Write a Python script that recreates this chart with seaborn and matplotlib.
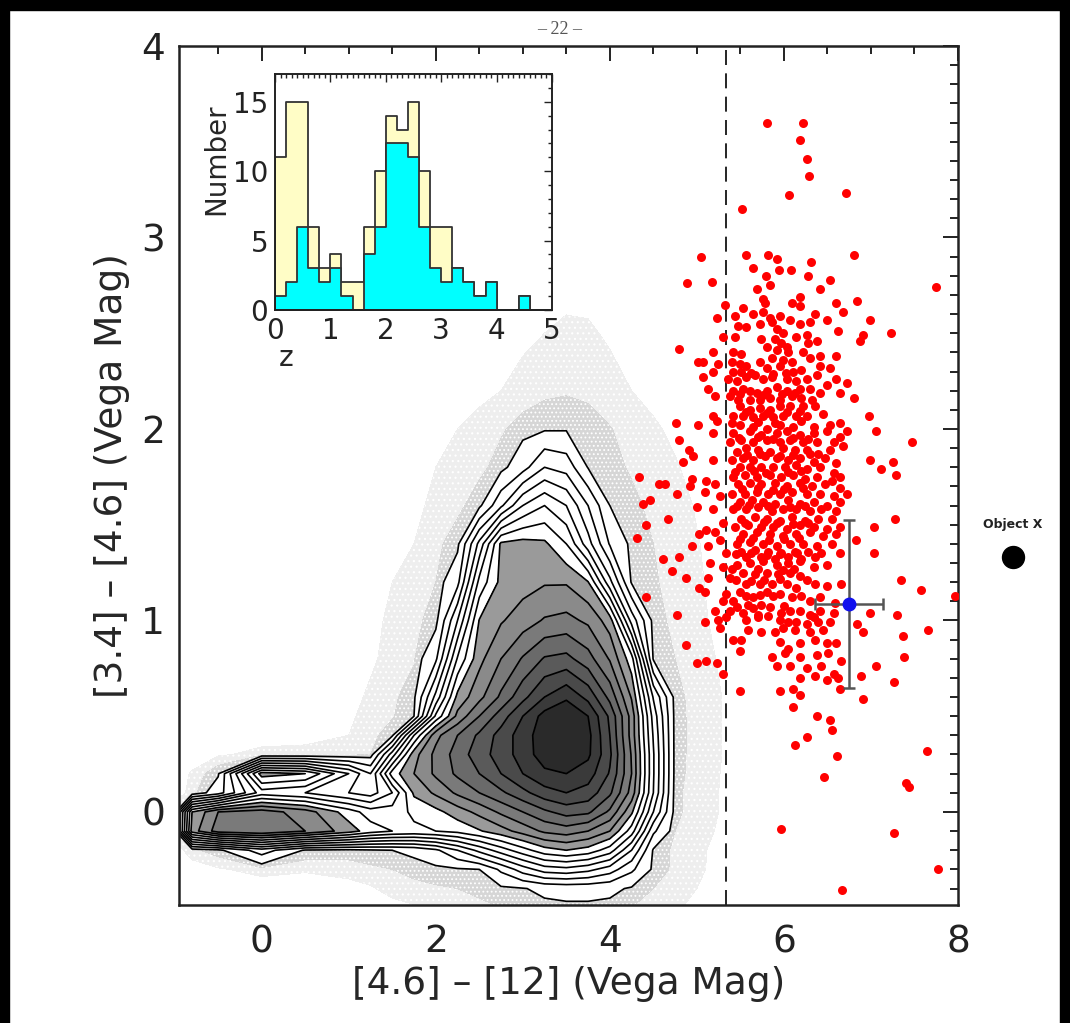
import numpy as np
import pandas as pd
import seaborn as sns
import matplotlib
matplotlib.use("Agg")
import matplotlib.pyplot as plt
from matplotlib.patches import Rectangle
from matplotlib.ticker import MultipleLocator

# region data
# density of the full sample on a coarse grid, in "contour level" units
grid_x = [-1.0, -0.8, -0.5, 0.0, 0.5, 1.0, 1.25, 1.5, 1.75, 2.0, 2.25, 2.5,
          2.75, 3.0, 3.25, 3.5, 3.75, 4.0, 4.25, 4.5, 4.75, 5.0, 5.5]
grid_y = [-0.5, -0.4, -0.3, -0.2, -0.1, 0.0, 0.1, 0.2, 0.3, 0.4, 0.5, 0.6,
          0.8, 1.0, 1.2, 1.4, 1.6, 1.8, 2.0, 2.2, 2.5, 2.8]
density_levels = [
    [0, 0, 0, 0, 0, 0, 0, 0.1, 0.2, 0.3, 0.4, 0.5, 0.6, 0.7, 0.8, 0.85, 0.85, 0.8, 0.6, 0.4, 0.3, 0.15, 0],
    [0, 0, 0, 0, 0, 0.1, 0.2, 0.4, 0.5, 0.55, 0.6, 0.7, 0.85, 0.95, 1.2, 1.3, 1.3, 1.2, 0.9, 0.6, 0.4, 0.25, 0.05],
    [0, 0, 0.2, 0.4, 0.3, 0.4, 0.5, 0.6, 0.7, 0.8, 0.9, 1.0, 2.2, 3.5, 4.5, 4.7, 4.3, 3.5, 2.2, 0.85, 0.5, 0.3, 0.05],
    [0, 0.5, 0.8, 2.5, 0.9, 0.8, 0.9, 1.0, 1.2, 1.8, 3.0, 4.3, 5.5, 6.6, 7.6, 8.0, 7.6, 6.5, 4.0, 0.9, 0.5, 0.3, 0.08],
    [0.5, 8.5, 10.5, 11, 10, 8.5, 7.5, 7.0, 6.8, 7.0, 7.3, 7.9, 8.6, 9.4, 10.2, 10.5, 10.0, 9.0, 6.5, 2.2, 0.6, 0.35, 0.1],
    [0.5, 8, 10, 10.5, 9.5, 7.5, 6.5, 6.5, 7.2, 7.7, 8.5, 9.3, 10.2, 11.0, 11.8, 12.4, 12.2, 10.8, 8.2, 4.0, 0.7, 0.4, 0.1],
    [0, 0.4, 1.5, 5.5, 5.0, 4.0, 3.5, 5.0, 8.2, 9.2, 10.2, 11.0, 11.8, 12.7, 13.6, 14.0, 13.6, 12.2, 9.6, 5.0, 0.7, 0.4, 0.1],
    [0, 0.3, 0.9, 8.5, 8.0, 5.0, 3.0, 7.5, 9.0, 10.2, 11.2, 12.0, 13.0, 14.0, 14.8, 15.0, 14.5, 12.9, 10.0, 5.1, 0.75, 0.42, 0.1],
    [0, 0, 0.2, 0.35, 0.35, 0.4, 0.6, 4.5, 8.6, 10.3, 11.4, 12.6, 13.4, 14.5, 15.5, 16.2, 15.2, 13.2, 9.9, 5.1, 0.75, 0.45, 0.1],
    [0, 0, 0, 0.1, 0.15, 0.25, 0.45, 0.85, 6.0, 9.7, 11.0, 12.2, 13.4, 14.5, 15.6, 16.4, 15.3, 13.0, 9.6, 4.9, 0.75, 0.45, 0.1],
    [0, 0, 0, 0, 0.1, 0.2, 0.35, 0.55, 1.0, 6.2, 9.3, 11.0, 12.5, 14.0, 15.4, 16.0, 15.0, 12.8, 9.6, 4.6, 0.75, 0.45, 0.1],
    [0, 0, 0, 0, 0.05, 0.15, 0.3, 0.5, 0.85, 4.3, 8.3, 9.7, 11.2, 12.7, 14.0, 14.8, 13.7, 11.7, 8.9, 3.9, 0.72, 0.45, 0.1],
    [0, 0, 0, 0, 0, 0.1, 0.2, 0.35, 0.55, 1.8, 6.1, 8.7, 10.0, 11.1, 12.1, 12.3, 11.4, 9.9, 7.4, 0.9, 0.6, 0.38, 0.08],
    [0, 0, 0, 0, 0, 0.1, 0.18, 0.3, 0.5, 0.75, 4.0, 8.05, 8.9, 9.5, 10.1, 10.3, 9.8, 8.5, 3.6, 0.75, 0.5, 0.32, 0.05],
    [0, 0, 0, 0, 0, 0.1, 0.15, 0.25, 0.4, 0.6, 1.7, 6.3, 8.3, 8.6, 8.9, 8.9, 8.05, 4.3, 0.9, 0.65, 0.45, 0.3, 0],
    [0, 0, 0, 0, 0, 0, 0, 0.1, 0.25, 0.5, 0.8, 4.3, 8.2, 8.4, 8.2, 7.0, 4.4, 1.9, 0.8, 0.6, 0.42, 0.27, 0],
    [0, 0, 0, 0, 0, 0, 0, 0.1, 0.2, 0.3, 0.5, 0.8, 2.8, 5.0, 6.0, 5.0, 3.0, 1.0, 0.7, 0.5, 0.38, 0.22, 0],
    [0, 0, 0, 0, 0, 0, 0, 0.1, 0.15, 0.25, 0.35, 0.5, 0.75, 1.6, 3.0, 2.6, 0.95, 0.72, 0.55, 0.4, 0.28, 0.15, 0],
    [0, 0, 0, 0, 0, 0, 0, 0, 0.1, 0.15, 0.25, 0.38, 0.55, 0.75, 0.9, 0.92, 0.8, 0.62, 0.45, 0.3, 0.18, 0.05, 0],
    [0, 0, 0, 0, 0, 0, 0, 0, 0, 0, 0.1, 0.15, 0.25, 0.4, 0.5, 0.55, 0.5, 0.38, 0.25, 0.15, 0.05, 0, 0],
    [0, 0, 0, 0, 0, 0, 0, 0, 0, 0, 0, 0, 0.1, 0.15, 0.25, 0.32, 0.3, 0.2, 0.1, 0, 0, 0, 0],
    [0, 0, 0, 0, 0, 0, 0, 0, 0, 0, 0, 0, 0, 0, 0, 0.1, 0.1, 0, 0, 0, 0, 0, 0],
]

# selected red objects
red_x = [
    # sparse top / outskirts
    5.81, 6.22, 6.18, 6.27, 6.29, 6.06, 6.71, 5.52,
    5.05, 5.57, 5.82, 5.92, 6.80, 5.64, 5.94, 6.08, 6.31,
    4.89, 5.17, 5.79, 6.28, 6.53, 7.75, 5.69, 5.84, 6.42,
    6.18, 5.76, 6.84, 6.99, 7.23, 6.91, 6.87, 4.79, 5.01,
    6.80, 6.98, 7.06, 7.47, 4.76, 5.01, 4.80, 4.91, 4.95, 4.84,
    6.99, 7.12, 7.25, 7.29, 4.34, 4.63, 4.94,
    7.28, 7.03, 6.83, 7.03, 7.34, 7.57, 7.97, 7.30, 7.66, 7.37, 7.38, 7.26,
    6.99, 6.84, 6.91, 7.06, 6.89, 6.91, 6.65, 6.38, 6.53, 6.55, 6.61, 6.27,
    6.13, 6.46, 7.64, 7.40, 7.44, 5.97, 7.26, 7.77, 6.67,
    5.49, 5.95, 6.11, 6.18, 6.11, 5.00, 4.88, 4.77,
    4.42, 4.67, 4.61, 4.80, 4.71, 4.88, 4.42, 5.00, 4.77, 4.46, 4.31, 4.57, 4.92,
    4.38, 4.94, 5.02, 5.02,
    # upper core
    5.32, 5.53, 5.78, 6.09, 6.18, 6.60, 5.23, 5.44, 5.65, 5.76, 5.84, 5.95,
    6.07, 6.18, 6.36, 6.30, 6.49, 6.68, 5.47, 5.57, 5.72, 5.86, 5.92, 5.99,
    5.90, 5.97, 6.03, 6.14, 6.26, 6.38, 6.28, 6.62, 5.30, 5.44, 5.74, 5.80,
    5.92, 6.05, 5.42, 5.51, 5.19, 5.24, 5.40, 5.49, 5.57, 5.72, 5.86, 5.99,
    6.09, 6.22, 6.30, 6.41, 6.41, 6.60, 6.53, 5.07, 5.19, 5.42, 5.51, 5.80,
    5.95, 6.11, 6.20, 6.38, 6.60, 6.72, 5.07, 5.13, 5.36, 5.46, 5.57, 5.67,
    5.76, 5.86, 6.03, 6.14, 6.26, 6.49, 5.42, 5.53, 5.61, 5.69, 5.80, 5.92,
    6.03, 6.18, 6.30, 6.41, 6.64, 5.21, 5.38, 5.47, 5.61, 5.72, 5.84, 5.95,
    6.09, 6.20, 6.32, 5.49, 5.61, 5.72, 5.84, 5.95, 6.07, 6.22, 6.36, 5.42,
    5.53, 5.65, 5.76, 5.88, 5.99, 6.14, 6.26, 6.45, 5.19, 5.23, 5.49, 5.65,
    5.80, 5.95, 6.11, 6.34, 6.53, 6.64,
    # middle core
    5.19, 5.19, 5.11, 5.21, 5.09, 5.26, 5.19, 5.11, 5.21, 5.30, 5.26, 5.13, 5.34,
    5.42, 5.61, 5.74, 5.92, 6.03, 6.18, 6.34, 6.49, 6.64, 6.72,
    5.38, 5.51, 5.65, 5.80, 5.95, 6.07, 6.22, 6.38, 6.57,
    5.46, 5.57, 5.70, 5.84, 5.99, 6.13, 6.26, 6.39, 6.53, 6.68,
    5.40, 5.53, 5.65, 5.78, 5.92, 6.05, 6.18, 6.34, 6.47, 6.60,
    5.49, 5.61, 5.74, 5.88, 6.01, 6.14, 6.26, 6.41, 6.57,
    5.42, 5.55, 5.69, 5.84, 5.97, 6.11, 6.24, 6.38, 6.55, 6.64,
    5.47, 5.61, 5.74, 5.90, 6.03, 6.18, 6.32, 6.47, 6.64,
    5.40, 5.55, 5.69, 5.82, 5.95, 6.09, 6.26, 6.41, 6.57, 6.72,
    5.49, 5.63, 5.76, 5.90, 6.05, 6.18, 6.34, 6.49, 6.64,
    5.42, 5.57, 5.70, 5.86, 5.99, 6.14, 6.30, 6.43, 6.60,
    5.51, 5.67, 5.80, 5.95, 6.09, 6.24, 6.39, 6.55,
    5.44, 5.59, 5.74, 5.88, 6.03, 6.18, 6.34, 6.49, 6.64,
    5.53, 5.69, 5.84, 5.99, 6.14, 6.30, 6.45, 6.60,
    5.46, 5.61, 5.76, 5.92, 6.07, 6.22, 6.38, 6.55,
    5.51, 5.67, 5.82, 5.97, 6.13, 6.28, 6.43, 6.64,
    5.57, 5.74, 5.90, 6.05, 6.20, 6.36,
    # lower core
    5.15, 5.30, 5.46, 5.61, 5.76, 5.92, 6.05, 6.18, 6.34, 6.49,
    5.53, 5.67, 5.80, 5.93, 6.07, 6.18, 6.26, 6.36, 6.49, 6.66,
    5.13, 5.38, 5.57, 5.72, 5.86, 6.03, 6.14, 5.09, 5.34, 5.49,
    5.65, 5.80, 5.95, 6.09, 6.30, 6.41, 6.59, 5.30, 5.42, 5.59, 5.74,
    5.21, 5.38, 5.53, 5.70, 5.97, 6.07, 6.18, 6.30, 6.41, 6.57,
    5.09, 5.24, 5.57, 5.95, 6.05, 6.14, 6.26, 6.39, 6.53,
    5.26, 5.59, 5.74, 5.90, 5.99, 6.13, 6.30, 6.45,
    5.42, 5.51, 5.95, 6.05, 6.18, 6.36, 6.49, 6.60,
    5.11, 5.23, 5.30, 5.49, 5.86, 6.01, 6.18, 6.38, 6.51, 6.66,
    5.92, 6.07, 6.26, 6.43, 6.57, 6.18, 6.36, 6.49, 6.62,
    # crowded centre, objects hidden between the ones above
    5.48, 5.70, 5.87, 6.10, 6.28, 5.58, 5.73, 5.96, 6.11, 6.30,
    5.44, 5.66, 5.79, 6.05, 6.20, 5.52, 5.70, 5.87, 6.00, 6.22,
    5.46, 5.60, 5.82, 6.07, 6.24, 5.55, 5.77, 5.92, 6.11, 6.28,
    5.50, 5.65, 5.83, 6.00, 6.17, 5.45, 5.62, 5.80, 5.96, 6.15,
    5.62, 5.88, 6.02, 5.50, 5.76, 5.98, 6.13, 5.56, 5.80, 6.03, 6.18,
    5.40, 5.70, 5.90, 6.20,
    5.40, 5.70, 5.99, 6.12, 5.45, 5.62, 5.77, 5.96, 5.56, 5.72, 5.88, 6.20,
    5.46, 5.64, 5.84, 6.00, 5.34, 5.70, 5.82, 6.35,
]
red_y = [
    3.60, 3.60, 3.51, 3.41, 3.32, 3.22, 3.23, 3.15,
    2.90, 2.91, 2.91, 2.89, 2.91, 2.84, 2.83, 2.83, 2.87,
    2.76, 2.77, 2.80, 2.80, 2.78, 2.74, 2.73, 2.75, 2.73,
    2.69, 2.68, 2.67, 2.57, 2.50, 2.49, 2.46, 2.42, 2.35,
    2.16, 2.07, 1.99, 1.93, 2.03, 2.02, 1.94, 1.89, 1.86, 1.83,
    1.84, 1.79, 1.83, 1.76, 1.75, 1.71, 1.74,
    1.53, 1.49, 1.42, 1.35, 1.21, 1.16, 1.13, 1.03, 0.95, 0.92, 0.81, 0.68,
    1.04, 0.98, 0.94, 0.76, 0.71, 0.59, 0.64, 0.50, 0.48, 0.43, 0.29, 0.39,
    0.35, 0.18, 0.32, 0.15, 0.13, -0.09, -0.11, -0.30, -0.41,
    0.63, 0.63, 0.64, 0.61, 0.55, 0.78, 0.87, 1.03,
    1.50, 1.53, 1.32, 1.33, 1.26, 1.22, 1.12, 1.59, 1.66, 1.63, 1.43, 1.71, 1.70,
    1.61, 1.39, 1.45, 1.17,
    # upper core
    2.65, 2.63, 2.66, 2.66, 2.64, 2.66, 2.58, 2.59, 2.60, 2.61, 2.58, 2.59,
    2.57, 2.55, 2.60, 2.56, 2.57, 2.61, 2.54, 2.53, 2.55, 2.56, 2.52, 2.50,
    2.47, 2.45, 2.43, 2.48, 2.49, 2.46, 2.45, 2.51, 2.48, 2.48, 2.47, 2.43,
    2.41, 2.40, 2.40, 2.39, 2.40, 2.34, 2.35, 2.34, 2.33, 2.35, 2.37, 2.36,
    2.35, 2.40, 2.37, 2.38, 2.33, 2.38, 2.32, 2.35, 2.30, 2.30, 2.30, 2.32,
    2.33, 2.30, 2.31, 2.28, 2.26, 2.24, 2.27, 2.21, 2.26, 2.25, 2.27, 2.28,
    2.26, 2.27, 2.26, 2.25, 2.26, 2.23, 2.20, 2.21, 2.20, 2.19, 2.20, 2.22,
    2.20, 2.21, 2.21, 2.19, 2.19, 2.17, 2.17, 2.15, 2.15, 2.15, 2.16, 2.15,
    2.17, 2.16, 2.15, 2.12, 2.10, 2.11, 2.10, 2.12, 2.12, 2.12, 2.12, 2.07,
    2.07, 2.06, 2.07, 2.06, 2.07, 2.07, 2.07, 2.08, 2.07, 2.04, 2.02, 2.01,
    2.00, 2.02, 2.01, 2.01, 2.02, 2.03,
    # middle core
    1.98, 1.84, 1.73, 1.71, 1.67, 1.65, 1.58, 1.47, 1.46, 1.51, 1.42, 1.39, 1.35,
    1.98, 1.99, 1.97, 1.98, 1.99, 1.97, 1.98, 1.99, 1.96, 1.99,
    1.93, 1.94, 1.93, 1.94, 1.93, 1.94, 1.93, 1.93, 1.93,
    1.88, 1.90, 1.89, 1.88, 1.90, 1.89, 1.89, 1.87, 1.89, 1.91,
    1.84, 1.85, 1.84, 1.86, 1.85, 1.84, 1.85, 1.83, 1.85, 1.82,
    1.80, 1.80, 1.80, 1.80, 1.80, 1.81, 1.79, 1.80, 1.77,
    1.75, 1.76, 1.75, 1.76, 1.75, 1.76, 1.74, 1.75, 1.73, 1.75,
    1.71, 1.72, 1.71, 1.72, 1.70, 1.72, 1.70, 1.71, 1.69,
    1.66, 1.66, 1.67, 1.66, 1.66, 1.67, 1.66, 1.66, 1.65, 1.66,
    1.62, 1.63, 1.62, 1.61, 1.63, 1.61, 1.62, 1.60, 1.62,
    1.58, 1.58, 1.59, 1.57, 1.58, 1.58, 1.57, 1.58, 1.57,
    1.53, 1.54, 1.53, 1.52, 1.54, 1.52, 1.53, 1.53,
    1.49, 1.50, 1.49, 1.49, 1.48, 1.50, 1.49, 1.48, 1.49,
    1.45, 1.46, 1.45, 1.44, 1.45, 1.46, 1.44, 1.45,
    1.40, 1.41, 1.40, 1.39, 1.40, 1.40, 1.39, 1.40,
    1.36, 1.37, 1.36, 1.35, 1.36, 1.36, 1.35, 1.35,
    1.33, 1.33, 1.32, 1.33, 1.32, 1.33,
    # lower core
    1.30, 1.28, 1.29, 1.30, 1.31, 1.29, 1.30, 1.31, 1.28, 1.29,
    1.25, 1.24, 1.25, 1.24, 1.25, 1.23, 1.21, 1.19, 1.18, 1.19,
    1.22, 1.22, 1.19, 1.19, 1.19, 1.19, 1.17, 1.15, 1.14, 1.15,
    1.12, 1.15, 1.14, 1.12, 1.10, 1.12, 1.09, 1.10, 1.10, 1.08, 1.08,
    1.05, 1.05, 1.04, 1.03, 1.04, 1.05, 1.05, 1.03, 1.05, 1.04,
    0.99, 1.00, 1.00, 1.00, 0.99, 0.99, 0.98, 0.99, 0.99,
    0.96, 0.95, 0.94, 0.94, 0.96, 0.95, 0.94, 0.95,
    0.90, 0.90, 0.89, 0.85, 0.88, 0.90, 0.88, 0.88,
    0.79, 0.78, 0.72, 0.84, 0.81, 0.83, 0.81, 0.82, 0.83, 0.79,
    0.76, 0.76, 0.75, 0.76, 0.72, 0.70, 0.71, 0.69, 0.70,
    # crowded centre
    1.955, 1.96, 1.95, 1.955, 1.95, 1.865, 1.87, 1.86, 1.865, 1.87,
    1.775, 1.78, 1.77, 1.775, 1.78, 1.685, 1.69, 1.68, 1.685, 1.69,
    1.60, 1.605, 1.60, 1.595, 1.60, 1.51, 1.515, 1.51, 1.505, 1.51,
    1.425, 1.43, 1.42, 1.425, 1.43, 1.345, 1.35, 1.34, 1.345, 1.35,
    2.29, 2.285, 2.29, 2.185, 2.18, 2.185, 2.19, 2.09, 2.085, 2.09, 2.095,
    2.03, 2.035, 2.03, 2.04,
    1.27, 1.27, 1.265, 1.27, 1.21, 1.205, 1.21, 1.215, 1.13, 1.135, 1.13, 1.13,
    1.07, 1.065, 1.07, 1.075, 1.02, 1.02, 1.025, 1.02,
]

# blue object with its error bars
blue_x, blue_y = 6.75, 1.085
blue_xerr, blue_yerr = 0.39, 0.44
cut_x = 5.33
objx_x, objx_y = 8.63, 1.33

# inset redshift histograms (bins of 0.2 from z=0 to 5)
z_mid = [0.1, 0.3, 0.5, 0.7, 0.9, 1.1, 1.3, 1.5, 1.7, 1.9, 2.1, 2.3, 2.5,
         2.7, 2.9, 3.1, 3.3, 3.5, 3.7, 3.9, 4.1, 4.3, 4.5, 4.7, 4.9]
n_all = [11, 15, 15, 6, 3, 4, 2, 2, 6, 10, 14, 13, 15, 10, 6, 6, 3, 2, 1, 2, 0, 0, 1, 0, 0]
n_sub = [1, 2, 6, 3, 2, 3, 1, 0, 4, 6, 12, 12, 11, 6, 3, 2, 3, 2, 1, 2, 0, 0, 1, 0, 0]
# endregion

sns.set_style("white")
plt.rcParams['font.family'] = ['DejaVu Sans']
plt.rcParams['hatch.color'] = '#5c5c5c'
plt.rcParams['hatch.linewidth'] = 0.8

fig = plt.figure(figsize=(10.7, 10.23), dpi=100)
ax = fig.add_axes([179/1070, 118/1023, 779/1070, 859/1023])

Z = np.array(density_levels)
levels = [0.25, 0.6, 1, 2, 3, 4, 5, 6, 7, 8, 9, 10, 11, 12, 13, 14, 15, 20]
greys = ['#9a9a9a', '#8a8a8a', '#7a7a7a', '#6a6a6a', '#5a5a5a', '#4a4a4a', '#3a3a3a', '#2a2a2a']
# sparse halo of single sources is shown as stippling
fill_cols = ['#eeeeee', '#d6d6d6'] + ['white'] * 7 + greys
hatch_list = ['...', '....'] + [None] * 15
ax.contourf(grid_x, grid_y, Z, levels=levels, colors=fill_cols, hatches=hatch_list, zorder=1)
ax.contour(grid_x, grid_y, Z, levels=np.arange(1, 16), colors='black', linewidths=1.2, zorder=2)

ax.axvline(cut_x, color='black', lw=1.2, dashes=(9, 5), zorder=2.5)

sns.scatterplot(x=red_x, y=red_y, color='#ff0000', s=42, linewidth=0, ax=ax, zorder=3)

ax.errorbar(blue_x, blue_y, xerr=blue_xerr, yerr=blue_yerr, fmt='o', color='#1010ee',
            ecolor='#555555', elinewidth=1.8, capsize=4, capthick=1.8, markersize=9, zorder=4)

# Object X, outside the frame
ax.scatter([objx_x], [objx_y], s=250, color='black', clip_on=False, zorder=5)
ax.text(objx_x, objx_y + 0.17, 'Object X', fontsize=9, fontweight='bold', ha='center',
        va='center', color='#222222', clip_on=False)

ax.set_xlim(-0.95, 8.0)
ax.set_ylim(-0.486, 4.0)
ax.xaxis.set_major_locator(MultipleLocator(2))
ax.xaxis.set_minor_locator(MultipleLocator(0.5))
ax.yaxis.set_major_locator(MultipleLocator(1))
ax.yaxis.set_minor_locator(MultipleLocator(0.1))
ax.tick_params(which='both', direction='in', top=True, right=True, width=1.4, colors='#222222')
ax.tick_params(which='major', length=11, labelsize=27)
ax.tick_params(which='minor', length=5.5)
ax.tick_params(axis='x', which='major', pad=14)
ax.tick_params(axis='y', which='major', pad=10)
for s in ax.spines.values():
    s.set_linewidth(1.8)
    s.set_color('#222222')
ax.set_xlabel('[4.6] – [12] (Vega Mag)', fontsize=27, labelpad=4)
ax.set_ylabel('[3.4] – [4.6] (Vega Mag)', fontsize=27, labelpad=8)

# inset histogram
hist = pd.DataFrame({'z': z_mid, 'all': n_all, 'sub': n_sub})
axin = fig.add_axes([275/1070, 713/1023, 277/1070, 236/1023])
sns.histplot(data=hist, x='z', weights='all', binwidth=0.2, binrange=(0, 5), element='step',
             fill=True, color='#fffdc6', edgecolor='#333333', linewidth=1.3, alpha=1, ax=axin)
sns.histplot(data=hist, x='z', weights='sub', binwidth=0.2, binrange=(0, 5), element='step',
             fill=True, color='#00ffff', edgecolor='#333333', linewidth=1.3, alpha=1, ax=axin)
axin.set_xlim(0, 5)
axin.set_ylim(0, 17)
axin.xaxis.set_major_locator(MultipleLocator(1))
axin.xaxis.set_minor_locator(MultipleLocator(0.1))
axin.yaxis.set_major_locator(MultipleLocator(5))
axin.yaxis.set_minor_locator(MultipleLocator(1))
axin.tick_params(which='both', direction='in', top=True, right=True, width=1.0, colors='#222222')
axin.tick_params(which='major', length=6, labelsize=20, pad=5)
axin.tick_params(which='minor', length=3)
for s in axin.spines.values():
    s.set_linewidth(1.4)
    s.set_color('#222222')
axin.set_xlabel('z', fontsize=20)
axin.set_ylabel('Number', fontsize=20)
axin.xaxis.set_label_coords(0.04, -0.145)
axin.yaxis.set_label_coords(-0.16, 0.64)

# page number and scan borders
fig.text(0.523, 0.971, '– 22 –', family='Liberation Serif', fontsize=13, color='#555555',
         ha='center', va='center')
fig.add_artist(Rectangle((0, 1 - 10/1023), 1, 10/1023, transform=fig.transFigure, color='black'))
fig.add_artist(Rectangle((0, 0), 9/1070, 1, transform=fig.transFigure, color='black'))
fig.add_artist(Rectangle((1060/1070, 0), 10/1070, 1, transform=fig.transFigure, color='black'))

fig.savefig('out.png', dpi=100)
